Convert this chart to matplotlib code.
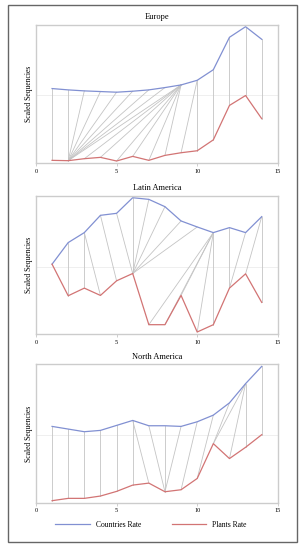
import matplotlib
matplotlib.use('Agg')
from matplotlib import pyplot as plt
from matplotlib.patches import Rectangle

plt.rcParams['font.family'] = ['Liberation Serif', 'DejaVu Serif']

x = [1, 2, 3, 4, 5, 6, 7, 8, 9, 10, 11, 12, 13, 14]

regions = ['Europe', 'Latin America', 'North America']

countries_europe = [0.20, 0.16, 0.13, 0.11, 0.09, 0.12, 0.16, 0.23, 0.31, 0.45, 0.77, 1.75, 2.07, 1.69]
plants_europe = [-1.97, -1.98, -1.92, -1.88, -1.99, -1.85, -1.97, -1.82, -1.74, -1.68, -1.35, -0.31, -0.01, -0.71]
path_europe = [(1, 1), (2, 2), (3, 2), (4, 2), (5, 2), (6, 2), (7, 2), (8, 2), (9, 2), (9, 3), (9, 4),
               (9, 5), (9, 6), (9, 7), (9, 8), (10, 9), (10, 10), (11, 11), (12, 12), (13, 13), (14, 14)]

countries_latin = [0.07, 0.72, 1.02, 1.54, 1.60, 2.07, 2.02, 1.80, 1.37, 1.19, 1.02, 1.17, 1.02, 1.50]
plants_latin = [0.07, -0.88, -0.65, -0.87, -0.43, -0.21, -1.75, -1.75, -0.87, -1.97, -1.75, -0.65, -0.22, -1.08]
path_latin = [(1, 1), (2, 2), (3, 3), (3, 4), (4, 5), (5, 6), (6, 6), (7, 6), (8, 6), (9, 6), (10, 6),
              (11, 7), (11, 8), (11, 9), (11, 10), (11, 11), (12, 12), (13, 12), (14, 13), (14, 14)]

countries_north = [0.26, 0.18, 0.10, 0.14, 0.29, 0.44, 0.28, 0.28, 0.26, 0.40, 0.60, 0.97, 1.55, 2.07]
plants_north = [-1.98, -1.91, -1.91, -1.84, -1.70, -1.51, -1.45, -1.71, -1.65, -1.31, -0.26, -0.71, -0.37, 0.01]
path_north = [(1, 1), (2, 2), (3, 3), (4, 4), (5, 5), (6, 6), (6, 7), (7, 8), (8, 8), (9, 8), (10, 9),
              (11, 10), (12, 11), (13, 11), (13, 12), (13, 13), (14, 14)]

countries = [countries_europe, countries_latin, countries_north]
plants = [plants_europe, plants_latin, plants_north]
paths = [path_europe, path_latin, path_north]

blue = '#8190d2'
red = '#d27474'
grey = '#c4c4c4'

fig = plt.figure(figsize=(3.02, 5.5), dpi=100)
fig.patches.append(Rectangle((8 / 302, 1 - 542 / 550), 289 / 302, 537 / 550, transform=fig.transFigure,
                             fill=False, edgecolor='#666666', linewidth=1.0))

bottoms = [0.7036, 0.3927, 0.086]
for k in range(3):
    ax = fig.add_axes([0.119, bottoms[k], 0.801, 0.2515])
    ax.axhline(0, color='#ececec', linewidth=0.6, zorder=0)
    for i, j in paths[k]:
        ax.plot([x[i - 1], x[j - 1]], [countries[k][i - 1], plants[k][j - 1]],
                color=grey, linewidth=0.6, zorder=1)
    l1, = ax.plot(x, countries[k], color=blue, linewidth=0.9, zorder=2, label='Countries Rate')
    l2, = ax.plot(x, plants[k], color=red, linewidth=0.9, zorder=2, label='Plants Rate')
    ax.set_xlim(0, 15)
    ax.margins(y=0.015)
    ax.set_xticks([0, 5, 10, 15])
    ax.set_yticks([])
    ax.tick_params(axis='x', labelsize=4.5, length=2, width=0.5, color='#bbbbbb', pad=2)
    for s in ax.spines.values():
        s.set_color('#cccccc')
        s.set_linewidth(1.0)
    ax.set_title(regions[k], fontsize=6, pad=4)
    ax.set_ylabel('Scaled Sequencies', fontsize=5.5, labelpad=2)

fig.legend([l1, l2], ['Countries Rate', 'Plants Rate'], loc='center', ncol=2,
           bbox_to_anchor=(0.5, 1 - 525 / 550), frameon=False, fontsize=5.5,
           handlelength=4.5, columnspacing=4, handletextpad=0.8)

fig.savefig('out.png', dpi=100)
